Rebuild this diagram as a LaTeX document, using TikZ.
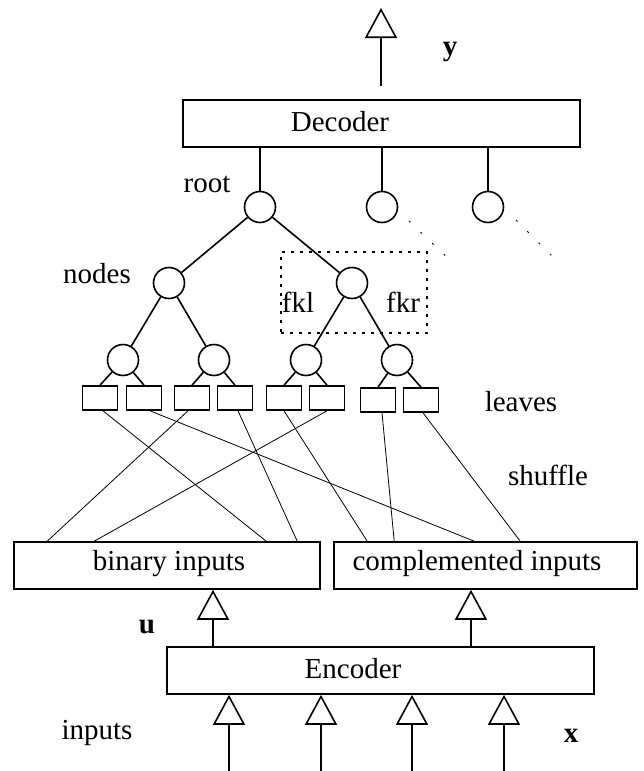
\documentclass[tikz,border=0pt]{standalone}
\usepackage{fontspec}
\setmainfont{Liberation Serif}
\usetikzlibrary{arrows.meta,calc}
\begin{document}
\begin{tikzpicture}[x=1pt,y=-1pt,
  box/.style={draw,line width=1.6pt,inner sep=0pt},
  circ/.style={draw,circle,line width=1.6pt,minimum size=31pt,inner sep=0pt},
  leaf/.style={draw,line width=1.6pt,minimum width=35pt,minimum height=24pt,inner sep=0pt},
  edge/.style={line width=1.6pt},
  wire/.style={line width=0.8pt},
  lbl/.style={font=\fontsize{29}{33}\selectfont,anchor=base,inner sep=0pt},
  blbl/.style={font=\fontsize{29}{33}\selectfont\bfseries,anchor=base,inner sep=0pt},
  arr/.style={line width=1.6pt,-{Triangle[open,length=30pt,width=32pt]}},
  trail/.style={line width=1pt,dash pattern=on 2pt off 14pt},
  fkbox/.style={draw,line width=2.2pt,dash pattern=on 3pt off 6pt,inner sep=0pt}
]
\useasboundingbox (0,0) rectangle (644,771);

% Decoder and output
\node[box,minimum width=397pt,minimum height=47pt] (dec) at (381.5,123.5) {};
\node[lbl] (dect) at (340,131.5) {Decoder};
\coordinate (ytail) at (381,86);
\coordinate (ytip) at (381,8);
\draw[arr] (ytail) -- (ytip);
\node[blbl] (ylab) at (450,55) {y};

% Top-level circles
\node[circ] (root) at (260,207) {};
\node[circ] (r2) at (382,207) {};
\node[circ] (r3) at (488,207) {};
\draw[edge] (dec.south -| root) -- (root);
\draw[edge] (dec.south -| r2) -- (r2);
\draw[edge] (dec.south -| r3) -- (r3);
\node[lbl] (rootl) at (207,192) {root};

\coordinate (t2a) at (409,221);
\coordinate (t2b) at (455,265);
\coordinate (t3a) at (516,220);
\coordinate (t3b) at (561,265);
\draw[trail] (t2a) -- (t2b);
\draw[trail] (t3a) -- (t3b);

% Level 2
\node[circ] (n1) at (169,283) {};
\node[circ] (n2) at (352,283) {};
\draw[edge] (root) -- (n1);
\draw[edge] (root) -- (n2);
\node[lbl] (nodesl) at (97,283) {nodes};
\node[fkbox,minimum width=146pt,minimum height=81pt] (fk) at (354,292.5) {};
\node[lbl] (fkl) at (298,312) {fkl};
\node[lbl] (fkr) at (403,312) {fkr};

% Level 3
\node[circ] (m1) at (123,360) {};
\node[circ] (m2) at (214,360) {};
\node[circ] (m3) at (306,360) {};
\node[circ] (m4) at (397,360) {};
\draw[edge] (n1) -- (m1);
\draw[edge] (n1) -- (m2);
\draw[edge] (n2) -- (m3);
\draw[edge] (n2) -- (m4);

% Leaves
\node[leaf] (l1) at (100,398) {};
\node[leaf] (l2) at (144,398) {};
\node[leaf] (l3) at (192,398) {};
\node[leaf] (l4) at (235,398) {};
\node[leaf] (l5) at (284,398) {};
\node[leaf] (l6) at (327,398) {};
\node[leaf] (l7) at (378,400) {};
\node[leaf] (l8) at (421,400) {};
\draw[edge] (m1) -- (l1.north);
\draw[edge] (m1) -- (l2.north);
\draw[edge] (m2) -- (l3.north);
\draw[edge] (m2) -- (l4.north);
\draw[edge] (m3) -- (l5.north);
\draw[edge] (m3) -- (l6.north);
\draw[edge] (m4) -- (l7.north);
\draw[edge] (m4) -- (l8.north);
\node[lbl] (leavesl) at (521,411) {leaves};
\node[lbl] (shufl) at (548,485) {shuffle};

% Input boxes
\node[box,minimum width=306pt,minimum height=47pt] (bin) at (167,565.5) {};
\node[lbl] (bint) at (169,570) {binary inputs};
\node[box,minimum width=303pt,minimum height=47pt] (comp) at (485.5,565.5) {};
\node[lbl] (compt) at (477,570) {complemented inputs};

% Shuffle wires
\draw[wire] ($(l1.south)+(3,0)$) -- ($(bin.north west)+(253,0)$);
\draw[wire] ($(l2.south)+(6,0)$) -- ($(comp.north west)+(141,0)$);
\draw[wire] ($(l3.south)+(-4,0)$) -- ($(bin.north west)+(34,0)$);
\draw[wire] ($(l4.south)+(3,0)$) -- ($(bin.north west)+(284,0)$);
\draw[wire] (l5.south) -- ($(comp.north west)+(34,0)$);
\draw[wire] (l6.south) -- ($(bin.north west)+(81,0)$);
\draw[wire] ($(l7.south)+(4,0)$) -- ($(comp.north west)+(61,0)$);
\draw[wire] ($(l8.south)+(2,0)$) -- ($(comp.north west)+(187,0)$);

% Encoder
\node[box,minimum width=427pt,minimum height=47pt] (enc) at (380.5,670.5) {};
\node[lbl] (enct) at (353,678) {Encoder};
\draw[arr] (enc.north -| 213,0) -- (bin.south -| 213,0);
\draw[arr] (enc.north -| 471,0) -- (comp.south -| 471,0);
\node[blbl] (ulab) at (147,633) {u};

% Inputs
\coordinate (x1) at (229,771);
\coordinate (x2) at (321,771);
\coordinate (x3) at (412,771);
\coordinate (x4) at (504,771);
\draw[arr] (x1) -- (enc.south -| x1);
\draw[arr] (x2) -- (enc.south -| x2);
\draw[arr] (x3) -- (enc.south -| x3);
\draw[arr] (x4) -- (enc.south -| x4);
\node[lbl] (inl) at (97,739) {inputs};
\node[blbl] (xlab) at (571,742) {x};
\end{tikzpicture}
\end{document}
